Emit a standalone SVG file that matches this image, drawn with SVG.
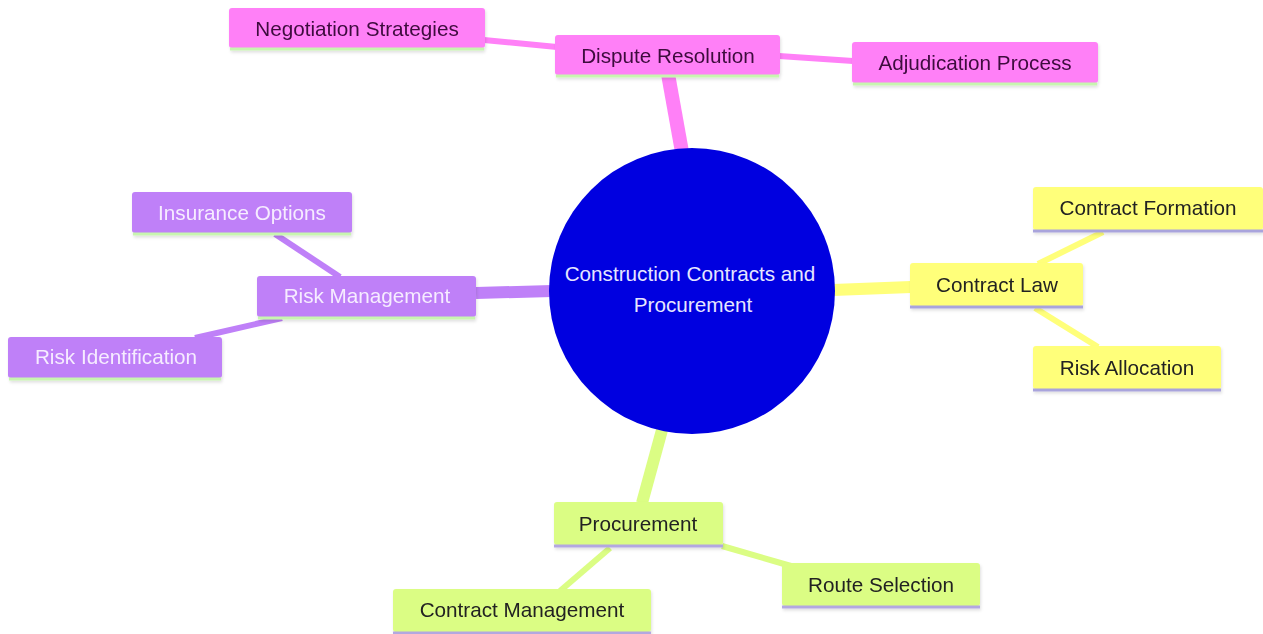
<svg xmlns="http://www.w3.org/2000/svg" width="1263" height="634" viewBox="0 0 1263 634">
<defs>
<filter id="sh" x="-10%" y="-20%" width="120%" height="150%">
<feDropShadow dx="1" dy="2" stdDeviation="1.5" flood-color="#000" flood-opacity="0.12"/>
</filter>
<style>
text{font-family:"Liberation Sans",Arial,sans-serif;font-size:20.7px;text-anchor:middle}
.pk rect.b{fill:#ff80f7}.pk line.u{stroke:#c8f5b0}.pk text{fill:#3d0a3d}
.pu rect.b{fill:#bf80f8}.pu line.u{stroke:#c8f5b0}.pu text{fill:#f6ecff}
.ye rect.b{fill:#ffff7a}.ye line.u{stroke:#a9a4dc}.ye text{fill:#222}
.gr rect.b{fill:#dbfd84}.gr line.u{stroke:#b3a8e0}.gr text{fill:#222}
line.u{stroke-width:3}
.e{fill:none;stroke-linecap:butt}
</style>
</defs>
<rect width="1263" height="634" fill="#fff"/>
<g id="connectors">
<line class="e" x1="668" y1="74" x2="682" y2="152" stroke="#ff80f7" stroke-width="14"/>
<line class="e" x1="476" y1="293" x2="552" y2="291" stroke="#bf80f8" stroke-width="12"/>
<line class="e" x1="833" y1="290" x2="911" y2="287" stroke="#ffff7a" stroke-width="12"/>
<line class="e" x1="662" y1="430" x2="642" y2="503" stroke="#dbfd84" stroke-width="12"/>
<line class="e" x1="484" y1="40" x2="557" y2="47" stroke="#ff80f7" stroke-width="6"/>
<line class="e" x1="779" y1="56" x2="853" y2="61" stroke="#ff80f7" stroke-width="6"/>
<line class="e" x1="275" y1="234" x2="340" y2="277" stroke="#bf80f8" stroke-width="6"/>
<line class="e" x1="282" y1="318" x2="195" y2="338" stroke="#bf80f8" stroke-width="6"/>
<line class="e" x1="1038" y1="264" x2="1103" y2="232" stroke="#ffff7a" stroke-width="6"/>
<line class="e" x1="1035" y1="308" x2="1098" y2="347" stroke="#ffff7a" stroke-width="6"/>
<line class="e" x1="722" y1="546" x2="791" y2="566" stroke="#dbfd84" stroke-width="6"/>
<line class="e" x1="610" y1="548" x2="560" y2="591" stroke="#dbfd84" stroke-width="6"/>
</g>
<g id="root">
<circle cx="692" cy="291" r="143" fill="#0000e0"/>
<text x="690" y="281" fill="#e6e6ff">Construction Contracts and</text>
<text x="693" y="312" fill="#e6e6ff">Procurement</text>
</g>
<g id="dispute-resolution" class="pk" filter="url(#sh)">
<rect class="b" x="555" y="35" width="225" height="40" rx="3"/>
<line class="u" x1="556" y1="76" x2="779" y2="76"/>
<text x="668" y="63">Dispute Resolution</text>
</g>
<g id="negotiation-strategies" class="pk" filter="url(#sh)">
<rect class="b" x="229" y="8" width="256" height="40" rx="3"/>
<line class="u" x1="230" y1="49" x2="484" y2="49"/>
<text x="357" y="36">Negotiation Strategies</text>
</g>
<g id="adjudication-process" class="pk" filter="url(#sh)">
<rect class="b" x="852" y="42" width="246" height="41" rx="3"/>
<line class="u" x1="853" y1="84" x2="1097" y2="84"/>
<text x="975" y="70">Adjudication Process</text>
</g>
<g id="risk-management" class="pu" filter="url(#sh)">
<rect class="b" x="257" y="276" width="219" height="41" rx="3"/>
<line class="u" x1="258" y1="318" x2="475" y2="318"/>
<text x="367" y="303">Risk Management</text>
</g>
<g id="insurance-options" class="pu" filter="url(#sh)">
<rect class="b" x="132" y="192" width="220" height="41" rx="3"/>
<line class="u" x1="133" y1="234" x2="351" y2="234"/>
<text x="242" y="220">Insurance Options</text>
</g>
<g id="risk-identification" class="pu" filter="url(#sh)">
<rect class="b" x="8" y="337" width="214" height="41" rx="3"/>
<line class="u" x1="9" y1="379" x2="221" y2="379"/>
<text x="116" y="364">Risk Identification</text>
</g>
<g id="contract-law" class="ye" filter="url(#sh)">
<rect class="b" x="910" y="263" width="173" height="43" rx="3"/>
<line class="u" x1="910" y1="307" x2="1083" y2="307"/>
<text x="997" y="292">Contract Law</text>
</g>
<g id="contract-formation" class="ye" filter="url(#sh)">
<rect class="b" x="1033" y="187" width="230" height="43" rx="3"/>
<line class="u" x1="1033" y1="231" x2="1263" y2="231"/>
<text x="1148" y="215">Contract Formation</text>
</g>
<g id="risk-allocation" class="ye" filter="url(#sh)">
<rect class="b" x="1033" y="346" width="188" height="43" rx="3"/>
<line class="u" x1="1033" y1="390" x2="1221" y2="390"/>
<text x="1127" y="375">Risk Allocation</text>
</g>
<g id="procurement" class="gr" filter="url(#sh)">
<rect class="b" x="554" y="502" width="169" height="43" rx="3"/>
<line class="u" x1="554" y1="546" x2="723" y2="546"/>
<text x="638" y="531">Procurement</text>
</g>
<g id="route-selection" class="gr" filter="url(#sh)">
<rect class="b" x="782" y="563" width="198" height="43" rx="3"/>
<line class="u" x1="782" y1="607" x2="980" y2="607"/>
<text x="881" y="592">Route Selection</text>
</g>
<g id="contract-management" class="gr" filter="url(#sh)">
<rect class="b" x="393" y="589" width="258" height="43" rx="3"/>
<line class="u" x1="393" y1="633" x2="651" y2="633"/>
<text x="522" y="617">Contract Management</text>
</g>
</svg>
